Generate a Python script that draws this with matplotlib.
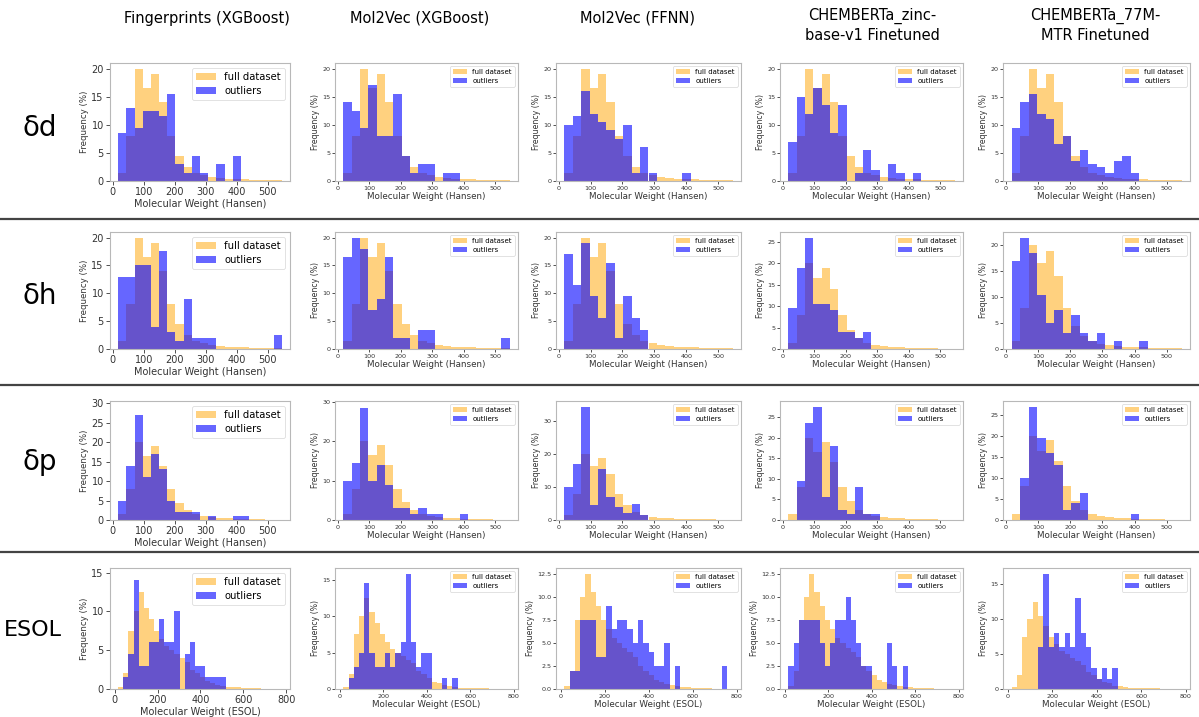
import numpy as np
import matplotlib
matplotlib.use("Agg")
import matplotlib.pyplot as plt
from matplotlib.ticker import MultipleLocator

# ---------------- data ----------------
models = ["Fingerprints (XGBoost)", "Mol2Vec (XGBoost)", "Mol2Vec (FFNN)",
          "CHEMBERTa_zinc-\nbase-v1 Finetuned", "CHEMBERTa_77M-\nMTR Finetuned"]
targets = ["δd", "δh", "δp", "ESOL"]
xlabels = ["Molecular Weight (Hansen)"] * 3 + ["Molecular Weight (ESOL)"]

# histogram bin edges (molecular weight)
hansen_edges = np.linspace(18, 545, 21)
esol_edges = np.linspace(16, 780, 33)

# full dataset frequencies (%)
hansen_full = [1.5, 8, 20, 16.5, 19, 14, 8, 4.5, 2.5, 1.5, 1, 0.7, 0.5, 0.4,
               0.3, 0.3, 0.2, 0.2, 0.1, 0.1]
esol_full = [0.3, 2, 7.5, 10, 12.5, 10.5, 9, 7.5, 6.5, 5.5, 5, 4.5, 4, 3.5,
             2.5, 2, 1.5, 1, 0.8, 0.5, 0.4, 0.3, 0.2, 0.2, 0.1, 0.1, 0.1,
             0.1, 0.05, 0.05, 0.05, 0.05]

# outlier frequencies (%) - δd
dd_fp_xgb = [8.5, 13, 9.5, 12.5, 12.5, 11.5, 15.5, 3, 1.5, 4.5, 1.5, 0, 3, 0, 4.5, 0, 0, 0, 0, 0]
dd_m2v_xgb = [14, 12.5, 9.5, 17, 8, 8, 15.5, 4.5, 1.5, 3, 3, 0, 1.5, 1.5, 0, 0, 0, 0, 0, 0]
dd_m2v_ffnn = [10, 11.5, 16, 12, 10.5, 9, 7.5, 10, 1.5, 6, 1.5, 0, 0, 0, 1.5, 0, 0, 0, 0, 0]
dd_zinc = [7, 15, 12, 16.5, 13.5, 8.5, 13.5, 0, 1.5, 5.5, 2, 0, 3, 1.5, 0, 1.5, 0, 0, 0, 0]
dd_77m = [9.5, 14, 15.5, 12, 11, 6.5, 8, 3.5, 5.5, 3, 2.5, 1.5, 3.5, 4.5, 1.5, 0, 0, 0, 0, 0]
# δh
dh_fp_xgb = [13, 13, 15, 15, 4, 17.5, 3, 1.5, 9, 2, 2, 2, 0, 0, 0, 0, 0, 0, 0, 2.5]
dh_m2v_xgb = [16.5, 20, 18, 7, 9, 16.5, 2, 2, 0, 3.5, 3.5, 0, 0, 0, 0, 0, 0, 0, 0, 2]
dh_m2v_ffnn = [17, 11.5, 19, 9.5, 5.5, 15.5, 2, 9.5, 5.5, 3.5, 0, 0, 0, 0, 0, 0, 0, 0, 0, 0]
dh_zinc = [9.5, 19, 26, 10.5, 10.5, 9, 4, 4, 2.5, 4, 0, 0, 0, 0, 0, 0, 0, 0, 0, 0]
dh_77m = [17, 21.5, 18.5, 10.5, 5, 7.5, 3, 6.5, 3, 1.5, 3, 0, 1.5, 0, 0, 1.5, 0, 0, 0, 0]
# δp
dp_fp_xgb = [5, 14, 27, 11, 17, 13, 5, 2, 2, 2, 0, 1, 0, 0, 1, 1, 0, 0, 0, 0]
dp_m2v_xgb = [10, 14.5, 28.5, 10, 14, 9, 3, 3, 1.5, 3, 1.5, 1.5, 0, 0, 1.5, 0, 0, 0, 0, 0]
dp_m2v_ffnn = [10, 17, 34.5, 4.5, 15.5, 7, 4, 2, 5, 1.5, 0, 0, 0, 0, 0, 0, 0, 0, 0, 0]
dp_zinc = [0, 9.5, 23.5, 27.5, 5.5, 18, 2.5, 1.5, 8, 1.5, 1.5, 0, 0, 0, 0, 0, 0, 0, 0, 0]
dp_77m = [0, 10, 27, 19.5, 16, 13, 2.5, 4, 6.5, 0, 0, 0, 0, 0, 1.5, 0, 0, 0, 0, 0]
# ESOL
esol_fp_xgb = [0, 1.5, 4.5, 14, 3, 3, 6, 6, 9, 6, 6, 10, 0, 4.5, 6, 3, 3, 1.5, 1.5, 1.5,
               1.5, 0, 0, 0, 0, 0, 0, 0, 0, 0, 0, 0]
esol_m2v_xgb = [0, 1.5, 3, 5, 14.5, 5, 3, 3, 5, 3, 5, 6.5, 15.8, 6.5, 3, 5, 5, 0, 0, 1.5,
                0, 1.5, 0, 0, 0, 0, 0, 0, 0, 0, 0, 0]
esol_m2v_ffnn = [0, 2, 2, 7.5, 7.5, 7.5, 3.5, 3.5, 9, 6.5, 7.5, 7.5, 6.5, 5, 7.5, 5, 4,
                 2.5, 2.5, 5, 0, 2.5, 0, 0, 0, 0, 0, 0, 0, 0, 2.5, 0]
esol_zinc = [2.5, 5, 7.5, 7.5, 7.5, 7.5, 5, 2.5, 5, 7.5, 7.5, 10, 7.5, 5, 2.5, 2.5, 0, 0,
             0, 5, 2.5, 0, 2.5, 0, 0, 0, 0, 0, 0, 0, 0, 0]
esol_77m = [0, 0, 0, 0, 0, 6, 16.5, 6, 8, 6, 8, 6, 13, 8, 6, 3, 1.5, 3, 1.5, 3,
            0, 0, 0, 0, 0, 0, 0, 0, 0, 0, 0, 0]

outliers = [
    [dd_fp_xgb, dd_m2v_xgb, dd_m2v_ffnn, dd_zinc, dd_77m],
    [dh_fp_xgb, dh_m2v_xgb, dh_m2v_ffnn, dh_zinc, dh_77m],
    [dp_fp_xgb, dp_m2v_xgb, dp_m2v_ffnn, dp_zinc, dp_77m],
    [esol_fp_xgb, esol_m2v_xgb, esol_m2v_ffnn, esol_zinc, esol_77m],
]

# y tick steps and (optional) upper y limits per panel
ystep = [[5, 5, 5, 5, 5],
         [5, 5, 5, 5, 5],
         [5, 10, 10, 5, 5],
         [5, 5, 2.5, 2.5, 5]]
ytop = [[None] * 5,
        [None] * 5,
        [30.6, 30.3, None, None, None],
        [15.6, None, None, None, None]]

# ---------------- layout ----------------
W, H = 1199, 717
fig = plt.figure(figsize=(W / 100, H / 100), dpi=100)

col_px = [(110, 290), (335, 518), (556, 741), (780, 963), (1003, 1190)]
row_px = [(63, 181), (232, 349), (401, 520), (568, 689)]
title_x = [207, 420, 637, 872, 1095]
label_y = [128, 296, 462, 630]
sep_y = [219, 385, 552]

spine_col = "#b8b8b8"

for r in range(4):
    edges = esol_edges if r == 3 else hansen_edges
    full = esol_full if r == 3 else hansen_full
    centers = (edges[:-1] + edges[1:]) / 2
    for c in range(5):
        l, rr = col_px[c]
        t, b = row_px[r]
        ax = fig.add_axes([l / W, 1 - b / H, (rr - l) / W, (b - t) / H])
        big = (c == 0)
        ax.hist(centers, bins=edges, weights=full, color="orange", alpha=0.5,
                label="full dataset")
        ax.hist(centers, bins=edges, weights=outliers[r][c], color="blue", alpha=0.6,
                label="outliers")
        if ytop[r][c] is not None:
            ax.set_ylim(0, ytop[r][c])
        ax.yaxis.set_major_locator(MultipleLocator(ystep[r][c]))
        if ystep[r][c] == 2.5:
            ax.yaxis.set_major_formatter(plt.FormatStrFormatter("%.1f"))
        tfs = 7 if big else 4.6
        ax.tick_params(labelsize=tfs, length=3 if big else 2, width=0.6,
                       pad=1.5, colors="#333333")
        for s in ax.spines.values():
            s.set_color(spine_col)
            s.set_linewidth(0.8)
        if r == 3:
            ax.xaxis.set_major_locator(MultipleLocator(200))
        else:
            ax.xaxis.set_major_locator(MultipleLocator(100))
        ax.set_xlabel(xlabels[r], fontsize=7 if big else 6.3, labelpad=1, color="#333333")
        ax.set_ylabel("Frequency (%)", fontsize=6.2 if big else 5.6, labelpad=1.5,
                      color="#333333")
        leg = ax.legend(loc="upper right", fontsize=7.2 if big else 5.0,
                        handlelength=2.0, borderpad=0.4, labelspacing=0.4,
                        handletextpad=0.8)
        leg.get_frame().set_linewidth(0.5)

# column titles
for c in range(5):
    ty = 25 if "\n" in models[c] else 18
    fig.text(title_x[c] / W, 1 - ty / H, models[c], ha="center", va="center",
             fontsize=10.5, linespacing=1.35)

# row labels
for r in range(4):
    fig.text((40 if r < 3 else 33) / W, 1 - label_y[r] / H, targets[r],
             ha="center", va="center", fontsize=20 if r < 3 else 16)

# separators
for y in sep_y:
    fig.add_artist(plt.Line2D([0, 1], [1 - y / H, 1 - y / H], color="#444444",
                              linewidth=1.6, transform=fig.transFigure))

fig.savefig("out.png", dpi=100)
